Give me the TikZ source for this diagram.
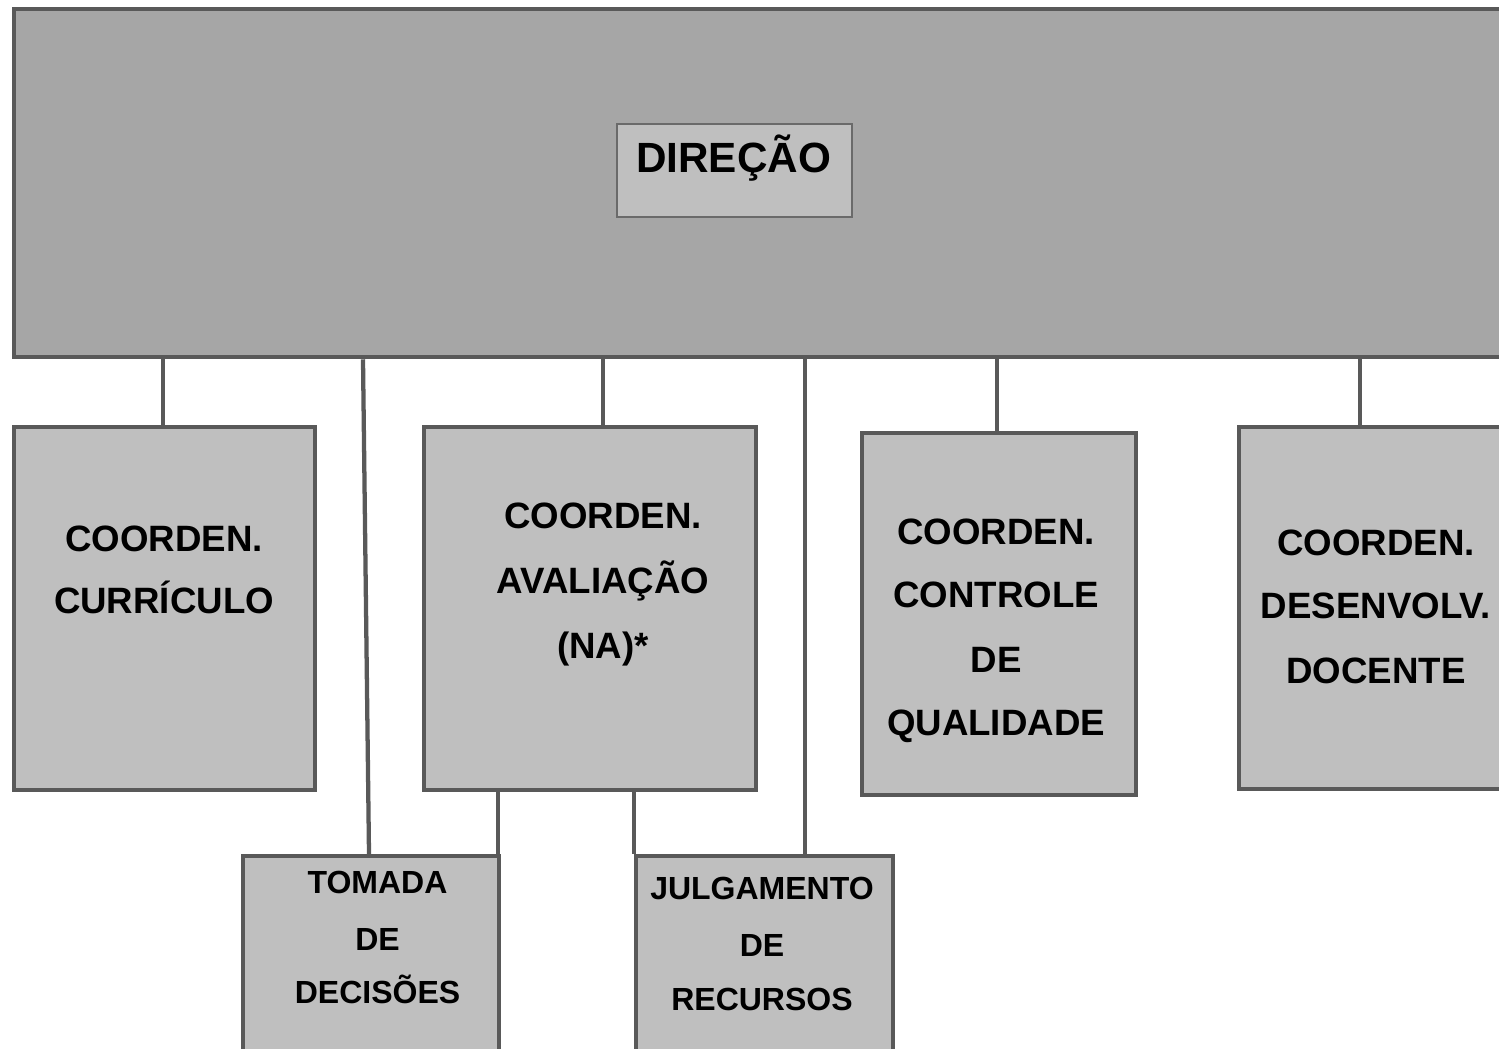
\documentclass[tikz,border=0pt]{standalone}
\usepackage{fontspec}
\setmainfont{Liberation Sans}
\definecolor{topfill}{HTML}{A6A6A6}
\definecolor{boxfill}{HTML}{BFBFBF}
\definecolor{edge}{HTML}{595959}
\definecolor{thinedge}{HTML}{6A6A6A}
\begin{document}
\begin{tikzpicture}[x=0.75pt,y=-0.75pt,
  box/.style={draw=edge, fill=boxfill, line width=3.2pt, rectangle, inner sep=0pt, anchor=north west},
  conn/.style={draw=edge, line width=3.2pt},
  big/.style={font=\fontsize{27.5pt}{30pt}\selectfont\bfseries, inner sep=0pt, anchor=base},
  small/.style={font=\fontsize{24pt}{27pt}\selectfont\bfseries, inner sep=0pt, anchor=base},
  title/.style={font=\fontsize{31.7pt}{34pt}\selectfont\bfseries, inner sep=0pt, anchor=base}]
\useasboundingbox (0,0) rectangle (1499,1049);
\clip (0,0) rectangle (1499,1049);
% boxes
\node[box, fill=topfill, minimum width=1500*0.75pt, minimum height=348*0.75pt] (top) at (12,7) {};
\node[box, draw=thinedge, line width=1.5pt, minimum width=235*0.75pt, minimum height=93*0.75pt] (dir) at (616,123) {};
\node[box, minimum width=301*0.75pt, minimum height=363*0.75pt] (curr) at (12,425) {};
\node[box, minimum width=332*0.75pt, minimum height=363*0.75pt] (aval) at (422,425) {};
\node[box, minimum width=274*0.75pt, minimum height=362*0.75pt] (ctrl) at (860,431) {};
\node[box, minimum width=275*0.75pt, minimum height=362*0.75pt] (desv) at (1237,425) {};
\node[box, minimum width=256*0.75pt, minimum height=220*0.75pt] (tom) at (241,854) {};
\node[box, minimum width=257*0.75pt, minimum height=220*0.75pt] (julg) at (634,854) {};
% connector x positions
\coordinate (x1) at (163,0);
\coordinate (x2a) at (363,0);
\coordinate (x2b) at (369,0);
\coordinate (x3) at (603,0);
\coordinate (x4) at (805,0);
\coordinate (x5) at (997,0);
\coordinate (x6) at (1360,0);
\coordinate (x7) at (498,0);
\coordinate (x8) at (634,0);
% connectors
\draw[conn] (top.south -| x1) -- (curr.north -| x1);
\draw[conn] (top.south -| x2a) -- (tom.north -| x2b);
\draw[conn] (top.south -| x3) -- (aval.north -| x3);
\draw[conn] (top.south -| x4) -- (julg.north -| x4);
\draw[conn] (top.south -| x5) -- (ctrl.north -| x5);
\draw[conn] (top.south -| x6) -- (desv.north -| x6);
\draw[conn] (aval.south -| x7) -- (tom.north -| x7);
\draw[conn] (aval.south -| x8) -- (julg.north -| x8);
% texts
\node[title] (tdir) at (733.5,172) {DIREÇÃO};
\node[big] (tc1) at (164,551) {COORDEN.};
\node[big] (tc2) at (164,613) {CURRÍCULO};
\node[big] (ta1) at (603,528) {COORDEN.};
\node[big] (ta2) at (603,593) {AVALIAÇÃO};
\node[big] (ta3) at (603,658) {(NA)*};
\node[big] (tq1) at (996,544) {COORDEN.};
\node[big] (tq2) at (996,607) {CONTROLE};
\node[big] (tq3) at (996,672) {DE};
\node[big] (tq4) at (996,735) {QUALIDADE};
\node[big] (td1) at (1376,555) {COORDEN.};
\node[big] (td2) at (1376,618) {DESENVOLV.};
\node[big] (td3) at (1376,683) {DOCENTE};
\node[small] (tt1) at (377.5,893) {TOMADA};
\node[small] (tt2) at (377.5,950) {DE};
\node[small] (tt3) at (377.5,1003) {DECISÕES};
\node[small] (tj1) at (762,899) {JULGAMENTO};
\node[small] (tj2) at (762,956) {DE};
\node[small] (tj3) at (762,1010) {RECURSOS};
\end{tikzpicture}
\end{document}
